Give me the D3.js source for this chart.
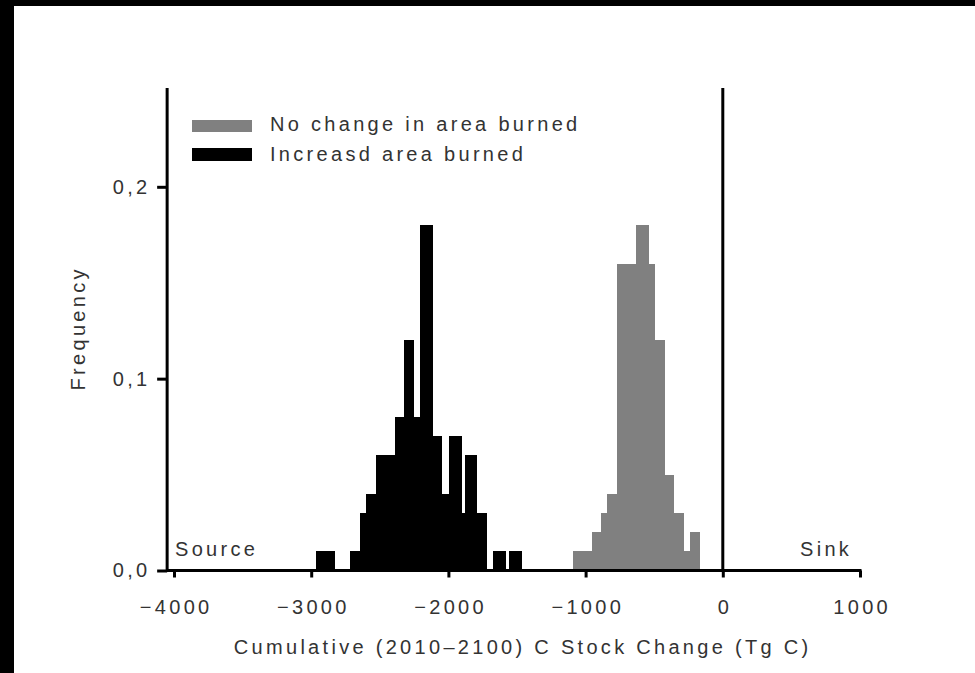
<!DOCTYPE html>
<html>
<head>
<meta charset="utf-8">
<script src="https://cdn.jsdelivr.net/npm/d3@7"></script>
<style>
  html, body { margin: 0; padding: 0; background: #000; }
  svg { display: block; }
  text { font-family: "Liberation Sans", Arial, Helvetica, sans-serif; font-size: 20px; fill: #333; letter-spacing: 3.3px; }
</style>
</head>
<body>
<svg id="chart" width="975" height="673"></svg>
<script>
// Histogram bins: lower edge, upper edge (Tg C) and relative frequency
const increasedLo   = [-2965, -2715, -2645, -2600, -2530, -2390, -2325, -2250, -2205, -2110, -2045, -1995, -1900, -1880, -1790, -1675, -1555];
const increasedHi   = [-2825, -2645, -2600, -2530, -2390, -2325, -2250, -2205, -2110, -2045, -1995, -1900, -1880, -1790, -1720, -1580, -1460];
const increasedFreq = [ 0.01,  0.01,  0.03,  0.04,  0.06,  0.08,  0.12,  0.08,  0.18,  0.07,  0.04,  0.07,  0.03,  0.06,  0.03,  0.01,  0.01];

const noChangeLo   = [-1092, -953, -887, -843, -770, -632, -538, -494, -421, -356, -283, -239];
const noChangeHi   = [ -953, -887, -843, -770, -632, -538, -494, -421, -356, -283, -239, -166];
const noChangeFreq = [ 0.01, 0.02, 0.03, 0.04, 0.16, 0.18, 0.16, 0.12, 0.05, 0.03, 0.01, 0.02];

const xTicks = [-4000, -3000, -2000, -1000, 0, 1000];
const yTicks = [0, 0.1, 0.2];
const legendLabels = ["No change in area burned", "Increasd area burned"];
const seriesColors = ["#808080", "#000000"];
const xTitle = "Cumulative (2010\u20132100) C Stock Change (Tg C)";
const yTitle = "Frequency";

const W = 975, H = 673;
const LS = 3.3; // letter spacing of all labels
const svg = d3.select("#chart");

// page frame
svg.append("rect").attr("width", W).attr("height", H).attr("fill", "#000");
svg.append("rect").attr("x", 14).attr("y", 6).attr("width", W - 14).attr("height", H - 6).attr("fill", "#fff");

const x = d3.scaleLinear().domain([-4000, 1000]).range([174, 860]);
const y = d3.scaleLinear().domain([0, 0.2515]).range([570.5, 88]);
const yAxisAt = -4050;   // the frequency axis sits a little left of -4000
const yTop = 0.2515;

function bins(lo, hi, f) { return lo.map((d, i) => ({ lo: d, hi: hi[i], f: f[i] })); }

// bars
const series = [bins(noChangeLo, noChangeHi, noChangeFreq), bins(increasedLo, increasedHi, increasedFreq)];
series.forEach((s, k) => {
  svg.append("g").selectAll("rect").data(s).join("rect")
    .attr("x", d => x(d.lo))
    .attr("width", d => x(d.hi) - x(d.lo))
    .attr("y", d => y(d.f))
    .attr("height", d => y(0) - y(d.f))
    .attr("fill", seriesColors[k])
    .attr("shape-rendering", "crispEdges");
});

// x axis
const gx = svg.append("g").attr("transform", `translate(0,${y(0)})`)
  .call(d3.axisBottom(x).tickValues(xTicks).tickFormat(d3.format("d")).tickSize(7).tickSizeOuter(0).tickPadding(22));
gx.select(".domain").remove();
gx.selectAll(".tick line").attr("stroke", "#000").attr("stroke-width", 3);
gx.selectAll(".tick text").attr("dx", LS / 2).attr("fill", "#333")
  .style("font-size", "20px").style("font-family", null);
svg.append("line")
  .attr("x1", x(yAxisAt)).attr("x2", x(1000) + 1.5)
  .attr("y1", y(0)).attr("y2", y(0))
  .attr("stroke", "#000").attr("stroke-width", 3);

// y axis
const gy = svg.append("g").attr("transform", `translate(${x(yAxisAt)},0)`)
  .call(d3.axisLeft(y).tickValues(yTicks).tickFormat(d => d3.format(".1f")(d).replace(".", ",")).tickSize(10).tickSizeOuter(0).tickPadding(10));
gy.select(".domain").remove();
gy.selectAll(".tick line").attr("stroke", "#000").attr("stroke-width", 3);
gy.selectAll(".tick text").attr("dx", LS).attr("fill", "#333")
  .style("font-size", "20px").style("font-family", null);
svg.append("line")
  .attr("x1", x(yAxisAt)).attr("x2", x(yAxisAt))
  .attr("y1", y(0) + 1.5).attr("y2", y(yTop))
  .attr("stroke", "#000").attr("stroke-width", 3);

// zero line separating source and sink
svg.append("line")
  .attr("x1", x(0)).attr("x2", x(0))
  .attr("y1", y(0)).attr("y2", y(yTop))
  .attr("stroke", "#000").attr("stroke-width", 3);

// axis titles
svg.append("text").attr("x", 521 + LS / 2).attr("y", 654).attr("text-anchor", "middle").text(xTitle);
svg.append("text").attr("transform", `translate(85,330) rotate(-90)`).attr("dx", LS / 2).attr("text-anchor", "middle").text(yTitle);

// region labels
svg.append("text").attr("x", 175).attr("y", 556).text("Source");
svg.append("text").attr("x", 800).attr("y", 556).text("Sink");

// legend
const legend = svg.append("g");
legendLabels.forEach((lab, i) => {
  const top = [120, 148][i], bottom = [132, 161][i];
  legend.append("rect").attr("x", 192).attr("y", top).attr("width", 60).attr("height", bottom - top)
    .attr("fill", seriesColors[i]);
  legend.append("text").attr("x", 270).attr("y", [131, 161][i]).text(lab);
});
</script>
</body>
</html>
